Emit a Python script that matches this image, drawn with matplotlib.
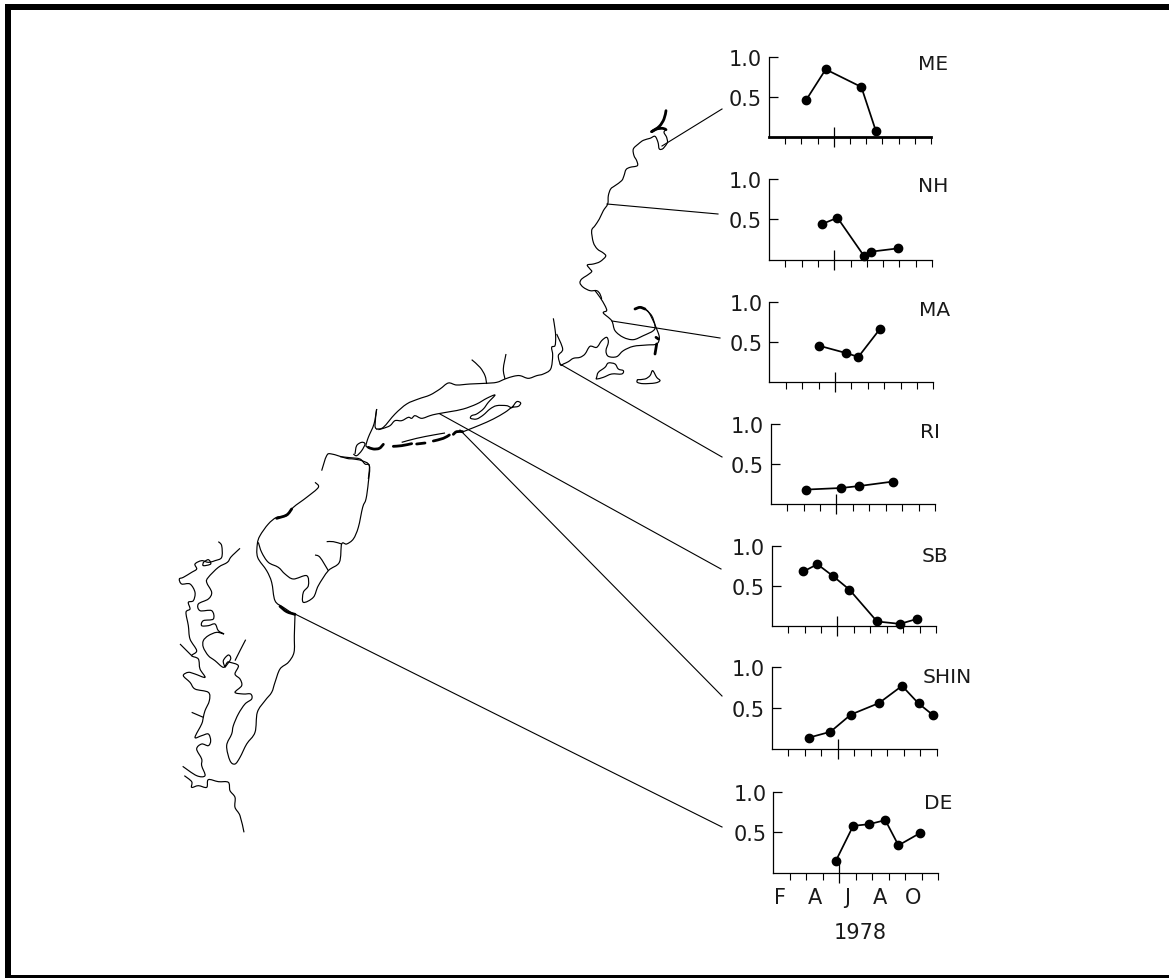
import matplotlib
matplotlib.use("Agg")
import matplotlib.pyplot as plt
from matplotlib.patches import Rectangle, PathPatch
from matplotlib.path import Path

W, H = 1169, 979
plt.rcParams['font.family'] = ['DejaVu Sans']

# ---- data -------------------------------------------------------------
MONTH_LABELS = ['F', 'A', 'J', 'A', 'O']
MONTH_POS = [0.4, 2.55, 4.5, 6.5, 8.5]
YEAR_LABEL = '1978'

ME_X = [2.3, 3.5, 5.7, 6.6];            ME_Y = [.46, .84, .62, .07]
NH_X = [3.23, 4.2, 5.85, 6.28, 7.9];    NH_Y = [.44, .52, .04, .10, .14]
MA_X = [3.03, 4.65, 5.43, 6.75];        MA_Y = [.45, .36, .31, .66]
RI_X = [2.13, 4.28, 5.4, 7.42];         RI_Y = [.18, .20, .225, .28]
SB_X = [1.93, 2.78, 3.75, 4.73, 6.41, 7.81, 8.82]
SB_Y = [.68, .77, .62, .455, .06, .03, .09]
SHIN_X = [2.28, 3.56, 4.8, 6.5, 7.9, 8.9, 9.8]
SHIN_Y = [.14, .21, .42, .56, .77, .555, .41]
DE_X = [3.8, 4.85, 5.8, 6.8, 7.6, 8.9]; DE_Y = [.15, .58, .6, .65, .34, .49]

# panel: name, xs, ys, axis left, axis right, y of 1.0, y of baseline, label x, label y
PANELS = [
    ('ME', ME_X, ME_Y, 769, 931, 57.5, 137.7, 918, 65),
    ('NH', NH_X, NH_Y, 769, 932, 180, 260.7, 917.5, 187),
    ('MA', MA_X, MA_Y, 769.3, 933.3, 302.7, 382.7, 919, 311),
    ('RI', RI_X, RI_Y, 770.7, 935, 425, 505, 920, 433),
    ('SB', SB_X, SB_Y, 771.7, 936, 546.7, 627.3, 921.5, 557),
    ('SHIN', SHIN_X, SHIN_Y, 771.7, 936.7, 668, 750, 923, 678),
    ('DE', DE_X, DE_Y, 773.3, 938, 792.7, 874, 924, 804),
]

# map outlines, traced in zoom-crop units: (origin x, origin y, points); 1 px = 3 units
MAINE = (540, 100, [(383,130),(370,148),(358,150),(354,130),(345,112),(330,118),(310,124),(295,135),(280,150),(282,170),(290,185),(292,200),(270,205),(258,212),(252,230),(245,245),(225,260),(212,270),(205,290),(203,315),(190,335),(178,360),(165,380),(155,395),(160,430),(172,450),(190,462),(197,472),(180,488),(160,495),(142,498),(150,510),(155,518),(140,530),(125,540),(120,552),(130,565),(150,575),(170,575),(180,585),(185,600)])
MAINE_NECK = (540, 100, [(383,130),(380,115),(372,100),(378,92)])
MASS = (340, 90, [(765,605),(780,625),(795,650),(800,665),(790,672),(815,695),(825,725),(850,745),(880,752),(910,740),(940,725),(945,710),(935,680),(915,660)])
CAPE_OUT = (340, 90, [(915,660),(925,668),(937,690),(948,715),(958,745),(950,765),(920,768),(880,772),(850,785),(830,803),(805,802),(798,785),(805,760),(800,745),(785,755),(770,775),(750,772),(735,795),(720,805),(700,808),(685,818),(670,825),(662,828),(655,800),(668,780),(650,735)])
CONN = (340, 90, [(640,688),(645,720),(647,745),(645,770),(635,775),(638,800),(632,840),(610,855),(590,860),(565,868),(540,860),(520,862),(495,870),(470,880),(435,883),(390,885),(350,888),(325,882),(300,900),(270,918),(235,930),(200,945),(165,975),(130,1015),(110,1020)])
RIVER_A = (340, 90, [(395,812),(420,835),(435,860),(440,885)])
RIVER_B = (340, 90, [(498,795),(490,840),(495,870)])
NANTUCKET = (340, 90, [(770,865),(775,850),(795,835),(805,822),(825,825),(835,840),(850,845),(845,855),(815,855),(790,865),(770,870),(770,865)])
VINEYARD = (340, 90, [(892,872),(915,870),(930,860),(938,845),(950,865),(960,875),(945,882),(910,884),(892,880),(892,872)])
LONG_ISLAND = (340, 310, [(115,362),(130,358),(150,350),(165,335),(185,335),(205,325),(215,328),(225,320),(245,328),(270,320),(290,315),(330,308),(370,300),(410,285),(440,268),(465,258),(445,280),(430,300),(410,315),(395,320),(392,328),(410,330),(430,318),(450,300),(470,290),(500,290),(515,295),(530,278),(542,282),(535,292),(515,296),(495,310),(460,330),(420,348),(385,362),(365,370)])
LI_SOUTH_5 = (340, 310, [(185,400),(230,388),(280,378),(315,372)])
STATEN = (340, 310, [(45,435),(50,410),(65,400),(75,405),(65,425),(50,440),(40,435)])
HUDSON_1 = (340, 310, [(110,300),(102,345),(85,385),(78,410),(85,415)])
HUDSON_2 = (340, 310, [(110,300),(105,350),(112,362)])
NJ_NORTH = (340, 310, [(0,443),(30,446),(60,450),(75,465),(88,470),(85,510)])
NJ_LOOP = (140, 430, [(545,125),(560,80),(575,75),(620,88),(640,90),(665,95),(688,110),(685,160),(678,210),(668,235),(655,295),(640,330),(620,345),(605,345),(598,400),(565,425),(535,470),(520,505),(490,520),(490,490),(505,470),(500,440),(460,450),(435,435),(415,415),(385,400),(365,370),(355,340)])
NJ_BR_1 = (140, 430, [(605,345),(580,338),(560,338)])
NJ_BR_2 = (140, 430, [(565,425),(540,385),(525,378)])
NJ_DE = (140, 430, [(525,160),(535,175),(500,205),(460,235),(440,260),(410,265),(385,285),(360,320),(352,345),(353,385),(380,425),(395,460),(405,515),(430,535),(465,558)])
DELMARVA = (140, 430, [(300,358),(285,372),(272,385),(262,400),(235,415),(205,445),(200,460),(215,490),(205,510),(175,525),(180,545),(215,545),(220,570),(190,575),(185,590),(205,590),(225,585),(235,605),(252,615),(230,610),(205,620),(190,635),(190,655),(205,680),(225,695),(250,715),(262,700),(270,700),(295,710),(285,735),(300,750),(305,770),(285,790),(310,795),(332,795),(335,810),(315,825),(295,855),(280,890),(275,915),(260,950),(270,995),(285,1005),(300,985),(320,945),(345,910),(352,850),(375,815),(395,790),(405,760),(420,720),(445,700),(462,670),(463,620),(465,558)])
CHES_WEST = (140, 430, [(235,338),(245,350),(245,385),(225,395),(205,400),(185,395),(165,405),(170,420),(155,430),(130,445),(118,450),(125,465),(150,465),(165,490),(160,515),(145,520),(150,540),(138,550),(145,590),(150,630),(170,665),(155,680),(175,690),(180,720),(195,745),(165,735),(145,730),(130,740),(150,760),(165,780),(205,790),(208,815),(195,845),(190,865),(185,885),(165,925),(185,920),(205,915),(212,935),(205,950),(185,945),(170,960),(185,990),(185,1010),(195,1040),(170,1040),(128,1012)])
CHES_BR_1 = (140, 430, [(155,680),(120,645)])
CHES_BR_2 = (140, 430, [(190,865),(155,850)])
CHES_BR_3 = (140, 430, [(285,695),(300,665),(317,632)])
CHES_LOOP = (140, 430, [(190,400),(205,392),(212,405),(190,410),(190,400)])
CHES_SOUTH = (140, 430, [(133,1040),(155,1058),(155,1075),(175,1070),(200,1075),(205,1052),(235,1058),(265,1060),(270,1085),(285,1105),(285,1135),(300,1160),(312,1210)])
CHES_OYSTER = (140, 430, [(255,715),(250,695),(265,678),(272,690),(255,715)])

COAST = [MAINE, MAINE_NECK, MASS, CAPE_OUT, CONN, RIVER_A, RIVER_B, NANTUCKET, VINEYARD,
         LONG_ISLAND, LI_SOUTH_5, STATEN, HUDSON_1, HUDSON_2, NJ_NORTH, NJ_LOOP, NJ_BR_1,
         NJ_BR_2, NJ_DE, DELMARVA, CHES_WEST, CHES_BR_1, CHES_BR_2, CHES_BR_3, CHES_LOOP,
         CHES_SOUTH, CHES_OYSTER]

# heavier ink strokes: barrier beaches, marsh edges, the Maine spit and Cape Cod tip
HEAVY = [
    (340, 310, [(230,405),(255,402)]),
    (340, 310, [(160,412),(185,410),(215,404)]),
    (340, 310, [(85,415),(100,420),(118,418),(130,406)]),
    (340, 310, [(280,396),(310,388),(328,378)]),
    (340, 310, [(340,376),(350,368),(368,368)]),
    (140, 430, [(420,532),(440,548),(465,556)]),
    (140, 430, [(410,268),(440,258),(455,240)]),
    (540, 100, [(378,35),(372,60),(358,82),(335,98)]),
    (540, 100, [(335,98),(350,90),(368,88),(378,92)]),
    (340, 90, [(885,660),(900,655),(915,660)]),
    (340, 90, [(950,765),(945,795)]),
    (340, 90, [(948,745),(955,750)]),
]

# leader lines, in figure pixels
LEADERS = [
    [(662, 147), (722, 110)],
    [(607, 205), (718, 215)],
    [(612, 322), (720, 339)],
    [(560, 365), (722, 458)],
    [(440, 415), (721, 570)],
    [(460, 431), (722, 697)],
    [(295, 615), (722, 828)],
]

# ---- drawing -----------------------------------------------------------
fig = plt.figure(figsize=(W / 100, H / 100), dpi=100, facecolor='white')
bg = fig.add_axes([0, 0, 1, 1])
bg.set_xlim(0, W)
bg.set_ylim(H, 0)
bg.axis('off')

# frame (open on the right)
bg.add_patch(Rectangle((5, 5), W - 5, 6, color='black', lw=0))
bg.add_patch(Rectangle((5, 5), 6, H - 5, color='black', lw=0))
bg.add_patch(Rectangle((5, 975.7), W - 5, 4, color='black', lw=0))


def curve(entry):
    """Bezier path through the traced points, so the pen line is not angular."""
    ox, oy, raw = entry
    pts = [(ox + p[0] / 3, oy + p[1] / 3) for p in raw]
    verts, codes = [pts[0]], [Path.MOVETO]
    k = 1 / 6
    for i in range(len(pts) - 1):
        p0 = pts[max(i - 1, 0)]
        p1, p2 = pts[i], pts[i + 1]
        p3 = pts[min(i + 2, len(pts) - 1)]
        verts += [(p1[0] + (p2[0] - p0[0]) * k, p1[1] + (p2[1] - p0[1]) * k),
                  (p2[0] - (p3[0] - p1[0]) * k, p2[1] - (p3[1] - p1[1]) * k),
                  p2]
        codes += [Path.CURVE4] * 3
    return Path(verts, codes)


for entry in COAST:
    bg.add_patch(PathPatch(curve(entry), fc='none', ec='black', lw=0.85))
for entry in HEAVY:
    bg.add_patch(PathPatch(curve(entry), fc='none', ec='black', lw=2.0, capstyle='round'))
for seg in LEADERS:
    bg.plot([p[0] for p in seg], [p[1] for p in seg], color='black', lw=0.8)

TICK_FS = 15
LABEL_FS = 14.5
INK = '#1a1a1a'
for name, xs, ys, left, right, top, base, lx, ly in PANELS:
    ax = fig.add_axes([left / W, 1 - base / H, (right - left) / W, (base - top) / H])
    ax.patch.set_alpha(0)
    ax.set_xlim(0, 10)
    ax.set_ylim(0, 1)
    for s in ('top', 'right'):
        ax.spines[s].set_visible(False)
    for s in ('left', 'bottom'):
        ax.spines[s].set_linewidth(0.9)
    if name == 'ME':
        ax.spines['bottom'].set_linewidth(2.0)
    ax.set_xticks([1, 2, 3, 5, 6, 7, 8, 9, 10])
    ax.set_xticks([4], minor=True)
    ax.tick_params(axis='x', which='major', direction='out', length=5, width=0.8, labelbottom=False)
    ax.tick_params(axis='x', which='minor', direction='inout', length=14, width=0.9, labelbottom=False)
    ax.set_yticks([0.5, 1.0])
    ax.set_yticklabels(['0.5', '1.0'], fontsize=TICK_FS, color=INK)
    ax.tick_params(axis='y', direction='in', length=6.5, width=0.9, pad=5)
    ax.plot(xs, ys, '-o', color='black', lw=1.25, ms=6, clip_on=False)
    bg.text(lx, ly, name, fontsize=LABEL_FS, ha='left', va='center', color=INK)
    if name == 'DE':
        for lab, pos in zip(MONTH_LABELS, MONTH_POS):
            ax.annotate(lab, (pos, 0), xytext=(0, -10), textcoords='offset points',
                        ha='center', va='top', fontsize=TICK_FS, color=INK)
        ax.annotate(YEAR_LABEL, (5.27, 0), xytext=(0, -35), textcoords='offset points',
                    ha='center', va='top', fontsize=TICK_FS, color=INK)

fig.savefig('out.png', dpi=100)
